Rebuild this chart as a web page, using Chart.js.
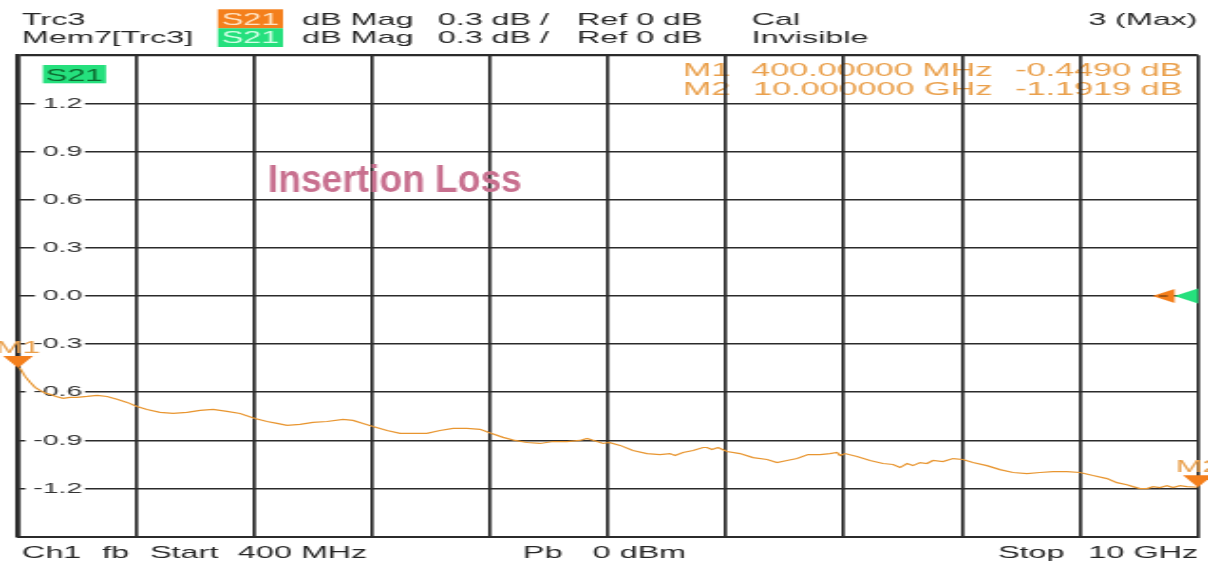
<!DOCTYPE html>
<html>
<head>
<meta charset="utf-8">
<script src="https://cdn.jsdelivr.net/npm/chart.js@4.4.1/dist/chart.umd.min.js"></script>
<style>
  html, body { margin: 0; padding: 0; background: #fff; overflow: hidden; }
</style>
</head>
<body>
<!-- the analyzer screenshot is stretched ~1.9x horizontally, so the canvas is too -->
<canvas id="chart" width="636" height="563" style="width:1208px;height:563px;display:block"></canvas>
<script>
// S21 trace (frequency in GHz, magnitude in dB)
const freqGHz = [0.400, 0.416, 0.457, 0.498, 0.538, 0.579, 0.620, 0.660, 0.709, 0.766,
    0.823, 0.880, 0.961, 1.043, 1.124, 1.205, 1.287, 1.368, 1.449, 1.555,
    1.661, 1.775, 1.881, 1.986, 2.100, 2.206, 2.328, 2.426, 2.507, 2.588,
    2.694, 2.800, 2.914, 3.044, 3.125, 3.207, 3.288, 3.402, 3.508, 3.614,
    3.727, 3.833, 3.939, 4.053, 4.159, 4.248, 4.346, 4.443, 4.541, 4.647,
    4.753, 4.866, 4.972, 5.029, 5.111, 5.159, 5.208, 5.298, 5.403, 5.517,
    5.623, 5.704, 5.745, 5.810, 5.892, 5.973, 6.005, 6.046, 6.095, 6.168,
    6.274, 6.380, 6.494, 6.575, 6.656, 6.738, 6.827, 6.925, 7.006, 7.063,
    7.088, 7.128, 7.226, 7.332, 7.437, 7.519, 7.576, 7.633, 7.681, 7.738,
    7.795, 7.844, 7.925, 8.007, 8.088, 8.169, 8.283, 8.389, 8.495, 8.609,
    8.715, 8.820, 8.934, 9.040, 9.146, 9.260, 9.341, 9.422, 9.471, 9.528,
    9.585, 9.634, 9.691, 9.747, 9.797, 9.854, 9.910, 10.000];
const s21dB = [-0.449, -0.451, -0.501, -0.538, -0.569, -0.588, -0.604, -0.613, -0.626, -0.638,
    -0.632, -0.632, -0.626, -0.619, -0.626, -0.644, -0.663, -0.688, -0.707, -0.725,
    -0.732, -0.725, -0.713, -0.707, -0.719, -0.732, -0.763, -0.782, -0.794, -0.806,
    -0.800, -0.788, -0.782, -0.769, -0.775, -0.794, -0.813, -0.838, -0.856, -0.856,
    -0.856, -0.838, -0.825, -0.825, -0.831, -0.856, -0.881, -0.900, -0.913, -0.919,
    -0.907, -0.907, -0.900, -0.888, -0.907, -0.919, -0.913, -0.931, -0.963, -0.982,
    -0.988, -0.982, -0.994, -0.975, -0.963, -0.944, -0.944, -0.957, -0.944, -0.969,
    -0.982, -1.007, -1.019, -1.038, -1.025, -1.013, -0.988, -0.988, -0.982, -0.975,
    -0.994, -0.982, -1.000, -1.025, -1.044, -1.050, -1.069, -1.044, -1.057, -1.038,
    -1.044, -1.025, -1.032, -1.013, -1.019, -1.038, -1.057, -1.082, -1.100, -1.107,
    -1.100, -1.094, -1.094, -1.100, -1.119, -1.138, -1.163, -1.176, -1.188, -1.200,
    -1.200, -1.188, -1.194, -1.182, -1.194, -1.182, -1.188, -1.1919];

// axes: 10 divisions each way
const xGridGHz = [0.4, 1.36, 2.32, 3.28, 4.24, 5.2, 6.16, 7.12, 8.08, 9.04, 10];
const yTickValues = [-1.5, -1.2, -0.9, -0.6, -0.3, 0, 0.3, 0.6, 0.9, 1.2, 1.5];
const yTickLabels = ['', '-1.2', '-0.9', '-0.6', '-0.3', '0.0', '0.3', '0.6', '0.9', '1.2', ''];

// markers
const markerNames = ['M1', 'M2'];
const markerFreqGHz = [0.4, 10];
const markerDb = [-0.449, -1.1919];
const markerFreqText = ['400.00000 MHz', '10.000000 GHz'];
const markerDbText = ['-0.4490 dB', '-1.1919 dB'];

const FONT = '"Liberation Sans", Arial, sans-serif';
const TEXT = '#262626';
const GRID = '#2b2b2b';
const ORANGE = '#f47f1c';
const GREEN = '#25e07d';
const TRACE = '#e8952f';
const MARK_TEXT = '#eaa04c';

function text(ctx, str, x, y, size, color, align, weight) {
    ctx.font = (weight || '') + ' ' + size + 'px ' + FONT;
    ctx.fillStyle = color;
    ctx.textAlign = align || 'left';
    ctx.textBaseline = 'alphabetic';
    ctx.fillText(str, x, y);
}

function labelBox(ctx, x, y, w, h, bg, fg, baseline) {
    ctx.fillStyle = bg;
    ctx.fillRect(x, y, w, h);
    text(ctx, 'S21', x + w / 2, baseline, 17, fg, 'center');
}

// marker readout sits under the grid, like on the instrument
const readoutPlugin = {
    id: 'readout',
    beforeDraw(chart) {
        const ctx = chart.ctx;
        ctx.save();
        const rows = [76, 94.5];
        markerNames.forEach((name, i) => {
            text(ctx, name, 359.5, rows[i], 18, MARK_TEXT);
            text(ctx, markerFreqText[i], 522.6, rows[i], 18, MARK_TEXT, 'right');
            text(ctx, markerDbText[i], 622.6, rows[i], 18, MARK_TEXT, 'right');
        });
        labelBox(ctx, 22.6, 65, 33.2, 18.3, GREEN, '#0d6a30', 81);
        ctx.restore();
    }
};

const markerPlugin = {
    id: 'markers',
    afterDatasetsDraw(chart) {
        const {ctx, chartArea} = chart;
        const x = chart.scales.x, y = chart.scales.y;
        ctx.save();
        markerFreqGHz.forEach((f, i) => {
            const px = x.getPixelForValue(f);
            const py = y.getPixelForValue(markerDb[i]);
            ctx.fillStyle = ORANGE;
            ctx.beginPath();
            ctx.moveTo(px - 7.9, py - 12);
            ctx.lineTo(px + 7.9, py - 12);
            ctx.lineTo(px, py);
            ctx.closePath();
            ctx.fill();
            text(ctx, markerNames[i], px, py - 15.5, 17, MARK_TEXT, 'center');
        });

        // reference level arrows at 0 dB on the right edge
        const y0 = y.getPixelForValue(0);
        const r = chartArea.right;
        ctx.fillStyle = ORANGE;
        ctx.beginPath();
        ctx.moveTo(r - 23.9, y0);
        ctx.lineTo(r - 12.3, y0 - 7);
        ctx.lineTo(r - 12.3, y0 + 7);
        ctx.closePath();
        ctx.fill();
        ctx.fillStyle = '#6a3a10';
        ctx.fillRect(r - 20.5, y0 - 0.6, 4.5, 1.2);
        ctx.fillStyle = GREEN;
        ctx.beginPath();
        ctx.moveTo(r - 12.3, y0);
        ctx.lineTo(r, y0 - 7.5);
        ctx.lineTo(r, y0 + 7.5);
        ctx.closePath();
        ctx.fill();
        ctx.restore();
    }
};

const annotationPlugin = {
    id: 'annotations',
    afterDraw(chart) {
        const ctx = chart.ctx;
        ctx.save();

        // header lines
        const header = [
            [[11.6, 'Trc3'], [159, 'dB Mag'], [230.5, '0.3 dB /'], [303.7, 'Ref 0 dB'], [395.8, 'Cal']],
            [[11.6, 'Mem7[Trc3]'], [159, 'dB Mag'], [230.5, '0.3 dB /'], [303.7, 'Ref 0 dB'], [395.8, 'Invisible']]
        ];
        const headBase = [25, 42.7];
        header.forEach((row, r) => {
            row.forEach(item => text(ctx, item[1], item[0], headBase[r], 17, TEXT));
        });
        text(ctx, '3 (Max)', 630.5, 25, 17, TEXT, 'right');
        labelBox(ctx, 114.7, 9.3, 34.3, 19, ORANGE, '#ffe4c4', 25);
        labelBox(ctx, 114.7, 28.3, 34.3, 18.7, GREEN, '#d2ffe6', 42.7);

        // footer
        const footer = [[11.6, 'Ch1'], [53.7, 'fb'], [79, 'Start'], [125.3, '400 MHz'],
            [275.3, 'Pb'], [312, '0 dBm'], [525.4, 'Stop']];
        footer.forEach(item => text(ctx, item[1], item[0], 558, 17, TEXT));
        text(ctx, '10 GHz', 630.7, 558, 17, TEXT, 'right');

        // the pasted-on label is not stretched like the rest
        ctx.font = 'bold 39px ' + FONT;
        const w = ctx.measureText('Insertion Loss').width;
        ctx.translate(141, 191.5);
        ctx.scale(133.7 / w, 1);
        text(ctx, 'Insertion Loss', 0, 0, 39, '#c8708f', 'left', 'bold');
        ctx.restore();
    }
};

const ctx = document.getElementById('chart').getContext('2d');
const s21Chart = new Chart(ctx, {
    type: 'line',
    data: {
        datasets: [{
            label: 'S21',
            data: freqGHz.map((f, i) => ({x: f, y: s21dB[i]})),
            borderColor: TRACE,
            borderWidth: 1.2,
            pointRadius: 0,
            tension: 0,
            fill: false
        }]
    },
    options: {
        responsive: false,
        devicePixelRatio: 1,
        animation: false,
        events: [],
        layout: {padding: {left: 9.5, right: 5.3, top: 55.3, bottom: 26.3}},
        plugins: {legend: {display: false}, tooltip: {enabled: false}},
        scales: {
            x: {
                type: 'linear',
                min: 0.4,
                max: 10,
                afterBuildTicks: scale => { scale.ticks = xGridGHz.map(v => ({value: v})); },
                afterFit: scale => { scale.height = 0; },
                ticks: {display: false},
                grid: {color: GRID, lineWidth: 1.7, drawTicks: false},
                border: {display: true, color: GRID, width: 2}
            },
            y: {
                type: 'linear',
                min: -1.5,
                max: 1.5,
                afterBuildTicks: scale => { scale.ticks = yTickValues.map(v => ({value: v})); },
                afterFit: scale => { scale.width = 0; },
                ticks: {
                    mirror: true,
                    crossAlign: 'far',
                    padding: 7.9,
                    color: '#333',
                    font: {family: FONT, size: 15},
                    callback: (v, i) => yTickLabels[i],
                    showLabelBackdrop: true,
                    backdropColor: c => (c.tick && c.tick.label) ? '#ffffff' : 'rgba(0,0,0,0)',
                    backdropPadding: {left: 4, right: 1.5, top: 0, bottom: 0}
                },
                grid: {
                    color: GRID,
                    lineWidth: c => (c.tick && c.tick.value === 1.5) ? 2.3 : 1.6,
                    drawTicks: false
                },
                border: {display: true, color: GRID, width: 2.2}
            }
        }
    },
    plugins: [readoutPlugin, markerPlugin, annotationPlugin]
});
</script>
</body>
</html>
